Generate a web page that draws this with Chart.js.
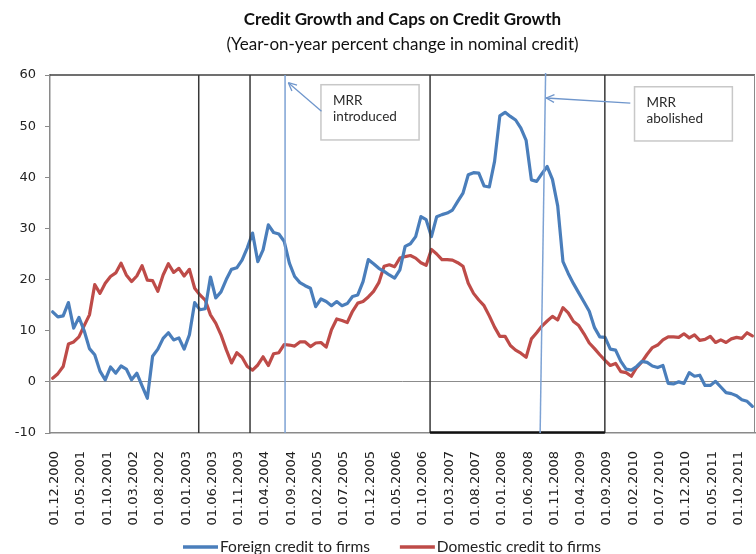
<!DOCTYPE html>
<html lang="en">
<head>
<meta charset="UTF-8" />
<title>Credit Growth and Caps on Credit Growth</title>
<script src="https://cdn.jsdelivr.net/npm/chart.js"></script>
<style>
  body { margin: 0; background: #fff; }
  canvas { display: block; }
</style>
</head>
<body>
<canvas id="creditChart" width="756" height="554"></canvas>
<script>
  // Monthly observations, 01.12.2000 .. 01.01.2012
  const startYear = 2000, startMonth = 12, monthCount = 134;
  const months = [];
  for (let k = 0; k < monthCount; k++) {
    const m = (startMonth - 1 + k) % 12 + 1;
    const yr = startYear + Math.floor((startMonth - 1 + k) / 12);
    months.push('01.' + String(m).padStart(2, '0') + '.' + yr);
  }
  const labelEvery = 5;

  const foreignCredit = [
    13.7, 12.7, 12.9, 15.5, 10.5, 12.6, 10.0, 6.5, 5.3, 2.1,
    0.4, 2.9, 1.7, 3.1, 2.5, 0.4, 1.7, -0.8, -3.2, 5.0,
    6.4, 8.5, 9.6, 8.2, 8.6, 6.4, 9.2, 15.5, 14.1, 14.3,
    20.5, 16.4, 17.6, 20.0, 22.0, 22.3, 23.8, 26.2, 29.1, 23.5,
    25.8, 30.7, 29.2, 28.9, 27.5, 23.2, 20.6, 19.4, 18.8, 18.3,
    14.7, 16.2, 15.7, 14.9, 15.7, 14.9, 15.3, 16.7, 17.0, 19.6,
    23.9, 23.1, 22.2, 21.6, 20.9, 20.3, 21.9, 26.5, 27.0, 28.4,
    32.3, 31.7, 28.4, 32.3, 32.7, 33.0, 33.6, 35.3, 36.9, 40.5,
    40.9, 40.8, 38.3, 38.1, 43.1, 52.0, 52.7, 51.9, 51.2, 49.6,
    47.2, 39.5, 39.2, 40.7, 42.1, 39.6, 34.4, 23.5, 21.2, 19.2,
    17.4, 15.6, 13.8, 10.6, 8.8, 8.7, 6.4, 6.2, 4.0, 2.5,
    2.3, 3.0, 4.0, 3.8, 3.1, 2.8, 3.2, -0.3, -0.4, 0.0,
    -0.3, 1.8, 1.1, 1.3, -0.7, -0.7, 0.1, -1.0, -2.1, -2.3,
    -2.7, -3.5, -3.8, -4.8
  ];

  const domesticCredit = [
    0.7, 1.6, 3.0, 7.4, 7.8, 8.8, 11.0, 13.1, 19.0, 17.3,
    19.3, 20.6, 21.3, 23.2, 20.9, 19.6, 20.7, 22.7, 19.9, 19.8,
    17.7, 20.9, 23.1, 21.4, 22.2, 20.7, 22.0, 18.3, 17.0, 16.0,
    13.1, 11.5, 9.2, 6.3, 3.7, 5.7, 4.8, 3.0, 2.3, 3.3,
    4.9, 3.2, 5.5, 5.7, 7.3, 7.2, 7.0, 7.8, 7.8, 6.9,
    7.6, 7.7, 6.8, 10.2, 12.3, 12.0, 11.6, 13.8, 15.4, 15.7,
    16.6, 17.7, 19.4, 22.6, 22.9, 22.5, 24.2, 24.5, 24.7, 24.2,
    23.3, 22.8, 25.9, 25.0, 23.9, 23.9, 23.8, 23.3, 22.6, 19.3,
    17.3, 16.0, 14.9, 12.9, 10.7, 8.9, 8.9, 7.1, 6.2, 5.6,
    4.8, 8.4, 9.6, 10.9, 11.9, 12.8, 12.1, 14.5, 13.5, 11.8,
    11.0, 9.4, 7.6, 6.5, 5.3, 4.2, 3.2, 3.6, 2.0, 1.8,
    1.1, 2.8, 3.9, 5.4, 6.7, 7.2, 8.2, 8.8, 8.8, 8.7,
    9.4, 8.6, 9.2, 8.1, 8.3, 8.9, 7.7, 8.2, 7.7, 8.4,
    8.7, 8.5, 9.6, 9.0
  ];

  const seriesNames = ['Foreign credit to firms', 'Domestic credit to firms'];
  const seriesColors = ['#4a7ebb', '#be4b48'];

  // Period boxes and MRR markers, in month-index units on the category axis
  const capBoundaries = [27.77, 37.52, 71.74, 104.96];
  const mrrIntroducedAt = 44.18;
  const mrrAbolishedAt = [93.7, 92.66]; // at top, at bottom (line leans slightly)
  const notes = [
    { lines: ['MRR', 'introduced'], box: [51.0, 58.1, 69.65, 47.3], from: [51.1, 52.9], to: [44.8, 58.5] },
    { lines: ['MRR', 'abolished'], box: [110.6, 57.7, 129.2, 47.1], from: [109.8, 54.5], to: [93.8, 55.5] }
  ];

  const uiFont = 'Lato, "Open Sans", sans-serif';

  function seg(ctx, x1, y1, x2, y2) {
    ctx.beginPath();
    ctx.moveTo(x1, y1);
    ctx.lineTo(x2, y2);
    ctx.stroke();
  }

  const overlays = {
    id: 'overlays',
    afterDatasetsDraw(chart) {
      const { ctx, chartArea: a, scales: { x, y } } = chart;
      ctx.save();
      ctx.lineCap = 'butt';

      // plot frame: dark top edge, grey right edge
      ctx.strokeStyle = '#404040';
      ctx.lineWidth = 1.5;
      seg(ctx, a.left, a.top, a.right, a.top);
      ctx.strokeStyle = '#8a8a8a';
      ctx.lineWidth = 1;
      seg(ctx, a.right - 0.5, a.top, a.right - 0.5, a.bottom);

      // period boxes
      ctx.strokeStyle = '#383838';
      ctx.lineWidth = 1.5;
      capBoundaries.forEach(v => {
        const px = x.getPixelForValue(v);
        seg(ctx, px, a.top, px, a.bottom);
      });
      ctx.strokeStyle = '#111';
      ctx.lineWidth = 2.5;
      seg(ctx, x.getPixelForValue(capBoundaries[2]), a.bottom - 0.5,
               x.getPixelForValue(capBoundaries[3]), a.bottom - 0.5);

      // MRR marker lines
      ctx.strokeStyle = '#7da2d4';
      ctx.lineWidth = 1.5;
      const xi = x.getPixelForValue(mrrIntroducedAt);
      seg(ctx, xi, a.top, xi, a.bottom);
      seg(ctx, x.getPixelForValue(mrrAbolishedAt[0]), a.top - 2,
               x.getPixelForValue(mrrAbolishedAt[1]), a.bottom);

      // note boxes with arrows
      notes.forEach(n => {
        const bx1 = x.getPixelForValue(n.box[0]), by1 = y.getPixelForValue(n.box[1]);
        const bx2 = x.getPixelForValue(n.box[2]), by2 = y.getPixelForValue(n.box[3]);
        ctx.fillStyle = '#fff';
        ctx.fillRect(bx1, by1, bx2 - bx1, by2 - by1);
        ctx.strokeStyle = '#c8c8c8';
        ctx.lineWidth = 1.5;
        ctx.strokeRect(bx1, by1, bx2 - bx1, by2 - by1);
        ctx.fillStyle = '#2a2a2a';
        ctx.font = '13.5px ' + uiFont;
        ctx.textAlign = 'left';
        ctx.textBaseline = 'middle';
        n.lines.forEach((t, k) => ctx.fillText(t, bx1 + 12, by1 + 16 + k * 16));

        const fx = x.getPixelForValue(n.from[0]), fy = y.getPixelForValue(n.from[1]);
        const tx = x.getPixelForValue(n.to[0]), ty = y.getPixelForValue(n.to[1]);
        ctx.strokeStyle = '#6f96cc';
        ctx.lineWidth = 1.3;
        seg(ctx, fx, fy, tx, ty);
        const ang = Math.atan2(fy - ty, fx - tx), head = 9, spread = 0.45;
        seg(ctx, tx, ty, tx + head * Math.cos(ang + spread), ty + head * Math.sin(ang + spread));
        seg(ctx, tx, ty, tx + head * Math.cos(ang - spread), ty + head * Math.sin(ang - spread));
      });

      // title and subtitle
      const cx = (a.left + a.right) / 2;
      ctx.fillStyle = '#111';
      ctx.textAlign = 'center';
      ctx.textBaseline = 'middle';
      ctx.font = 'bold 17px ' + uiFont;
      ctx.fillText('Credit Growth and Caps on Credit Growth', cx, 20);
      ctx.font = '17px ' + uiFont;
      ctx.fillText('(Year-on-year percent change in nominal credit)', cx, 45);

      // legend
      ctx.font = '15.5px ' + uiFont;
      ctx.textAlign = 'left';
      let lx = 183;
      const ly = 547;
      seriesNames.forEach((name, k) => {
        ctx.strokeStyle = seriesColors[k];
        ctx.lineWidth = 3.5;
        seg(ctx, lx, ly, lx + 35, ly);
        ctx.fillStyle = '#222';
        ctx.fillText(name, lx + 37, ly);
        lx += 37 + ctx.measureText(name).width + 30;
      });
      ctx.restore();
    }
  };

  new Chart(document.getElementById('creditChart'), {
    type: 'line',
    data: {
      labels: months,
      datasets: [
        { label: seriesNames[0], data: foreignCredit, borderColor: seriesColors[0] },
        { label: seriesNames[1], data: domesticCredit, borderColor: seriesColors[1] }
      ]
    },
    options: {
      responsive: false,
      animation: false,
      layout: { padding: { top: 75, right: 1, left: 0, bottom: 0 } },
      elements: {
        point: { radius: 0 },
        line: { borderWidth: 3.2, tension: 0, borderJoinStyle: 'round', borderCapStyle: 'round' }
      },
      plugins: { legend: { display: false }, title: { display: false }, tooltip: { enabled: false } },
      scales: {
        x: {
          offset: true,
          grid: { display: false },
          border: { display: true, color: '#8a8a8a', width: 1.5 },
          ticks: {
            autoSkip: false,
            maxRotation: 90,
            minRotation: 90,
            padding: 10,
            labelOffset: 2,
            color: '#222',
            font: { family: '"DejaVu Sans", Verdana, sans-serif', size: 13 },
            callback: (v, i) => (i % labelEvery === 0 ? months[i] : '')
          },
          afterFit: s => { s.height = 121; s.paddingLeft = 0; s.paddingRight = 0; }
        },
        y: {
          min: -10,
          max: 60,
          ticks: {
            stepSize: 10,
            padding: 9,
            color: '#222',
            font: { family: '"DejaVu Sans", Verdana, sans-serif', size: 13 }
          },
          grid: {
            color: c => (c.tick && c.tick.value === 0 ? '#8c8c8c' : 'rgba(0,0,0,0)'),
            tickColor: '#8a8a8a',
            tickLength: 5,
            lineWidth: 1
          },
          border: { display: true, color: '#8a8a8a', width: 1.5 },
          afterFit: s => { s.width = 50; s.paddingTop = 0; s.paddingBottom = 0; }
        }
      }
    },
    plugins: [overlays]
  });
</script>
</body>
</html>
